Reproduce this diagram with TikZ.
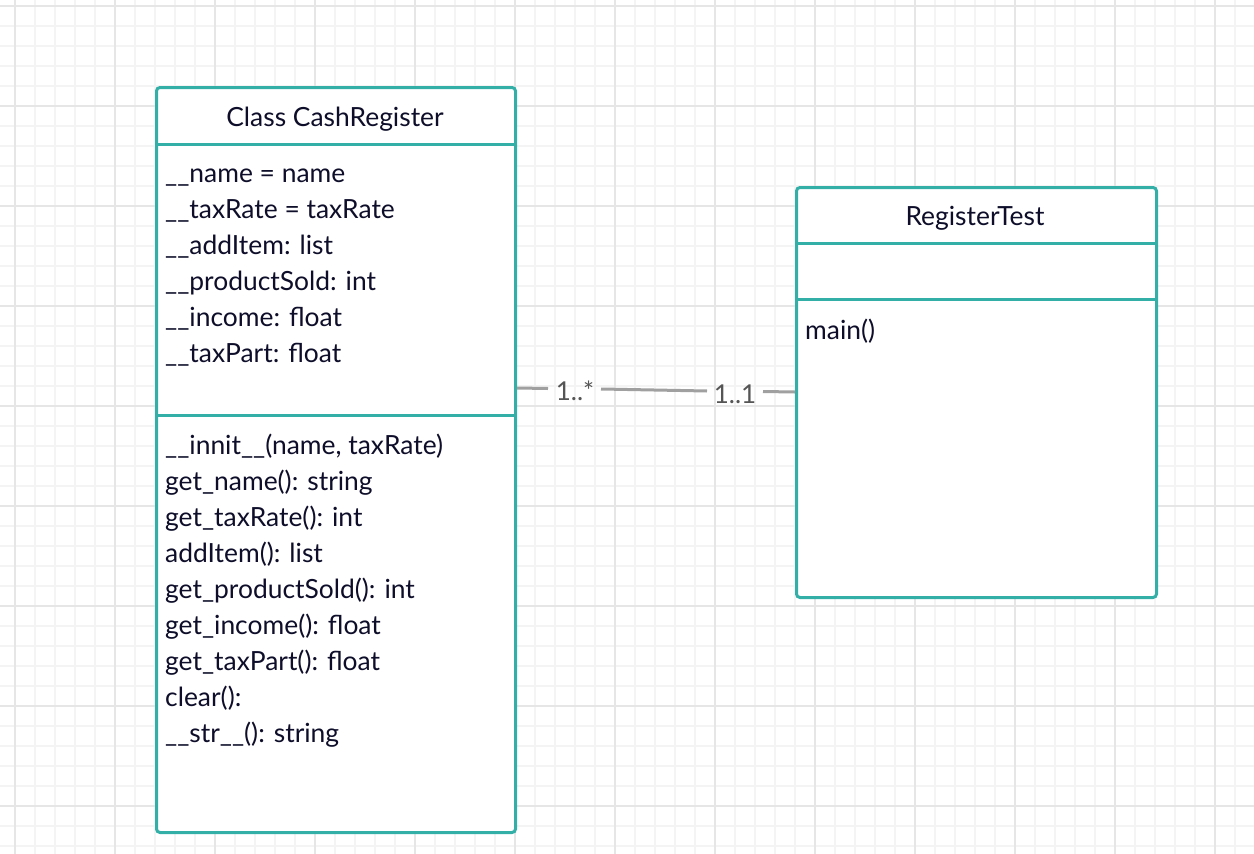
\documentclass[tikz,border=0pt]{standalone}
\usepackage{fontspec}
\setmainfont{Lato}
\definecolor{teal1}{HTML}{34AFA8}
\definecolor{ink}{HTML}{0E0E2A}
\definecolor{connc}{HTML}{A0A0A0}
\definecolor{lblc}{HTML}{555555}
\definecolor{gminor}{HTML}{F4F4F4}
\definecolor{gmajor}{HTML}{E6E6E6}
\begin{document}
\begin{tikzpicture}[x=1pt,y=-1pt,
  umlbox/.style={draw=teal1, line width=3pt, rounded corners=3.5pt, fill=white, inner sep=0pt, anchor=north west},
  divider/.style={draw=teal1, line width=3pt},
  txt/.style={anchor=base west, inner sep=0pt, text=ink, font=\fontsize{26.4}{30}\selectfont},
  ttl/.style={anchor=base, inner sep=0pt, text=ink, font=\fontsize{26.4}{30}\selectfont},
  mult/.style={anchor=base, inner sep=0pt, text=lblc, font=\fontsize{26}{30}\selectfont},
  connline/.style={draw=connc, line width=3pt},
  minorgrid/.style={draw=gminor, line width=2pt},
  majorgrid/.style={draw=gmajor, line width=2pt}]
\useasboundingbox (0,0) rectangle (1254,854);
\fill[white] (0,0) rectangle (1254,854);
% grid
\foreach \x in {-5,15,...,1255} \draw[minorgrid] (\x,0) -- (\x,854);
\foreach \y in {5.7,25.7,...,860} \draw[minorgrid] (0,\y) -- (1254,\y);
\foreach \x in {15,115,...,1215} \draw[majorgrid] (\x,0) -- (\x,854);
\foreach \y in {5.7,105.7,...,860} \draw[majorgrid] (0,\y) -- (1254,\y);
% class CashRegister
\node[umlbox, minimum width=359pt, minimum height=745pt] (cr) at (155,86) {};
\draw[divider] (cr.west |- 0,144) -- (cr.east |- 0,144);
\draw[divider] (cr.west |- 0,415.5) -- (cr.east |- 0,415.5);
\node[ttl] (crt) at (335,126.5) {Class CashRegister};
\node[txt] (a1) at (165,182) {\_\_name = name};
\node[txt] (a2) at (165,218) {\_\_taxRate = taxRate};
\node[txt] (a3) at (165,254) {\_\_addItem: list};
\node[txt] (a4) at (165,290) {\_\_productSold: int};
\node[txt] (a5) at (165,326) {\_\_income: float};
\node[txt] (a6) at (165,362) {\_\_taxPart: float};
\node[txt] (m1) at (165,454) {\_\_innit\_\_(name, taxRate)};
\node[txt] (m2) at (165,490) {get\_name(): string};
\node[txt] (m3) at (165,526) {get\_taxRate(): int};
\node[txt] (m4) at (165,562) {addItem(): list};
\node[txt] (m5) at (165,598) {get\_productSold(): int};
\node[txt] (m6) at (165,634) {get\_income(): float};
\node[txt] (m7) at (165,670) {get\_taxPart(): float};
\node[txt] (m8) at (165,706) {clear():};
\node[txt] (m9) at (165,742) {\_\_str\_\_(): string};
% class RegisterTest
\node[umlbox, minimum width=360pt, minimum height=410pt] (rt) at (795,186) {};
\draw[divider] (rt.west |- 0,243) -- (rt.east |- 0,243);
\draw[divider] (rt.west |- 0,299.5) -- (rt.east |- 0,299.5);
\node[ttl] (rtt) at (975,225.5) {RegisterTest};
\node[txt] (rm1) at (805,339) {main()};
% association
\node[mult] (l1) at (575,400) {1..*};
\node[mult] (l2) at (735,403.5) {1..1};
\coordinate (c0) at (cr.east |- 0,388);
\coordinate (c1) at (548,388.5);
\coordinate (c2) at (601,389);
\coordinate (c3) at (707,391);
\coordinate (c4) at (763,391.5);
\coordinate (c5) at (rt.west |- 0,392);
\draw[connline] (c0) -- (c1);
\draw[connline] (c2) -- (c3);
\draw[connline] (c4) -- (c5);
\end{tikzpicture}
\end{document}
